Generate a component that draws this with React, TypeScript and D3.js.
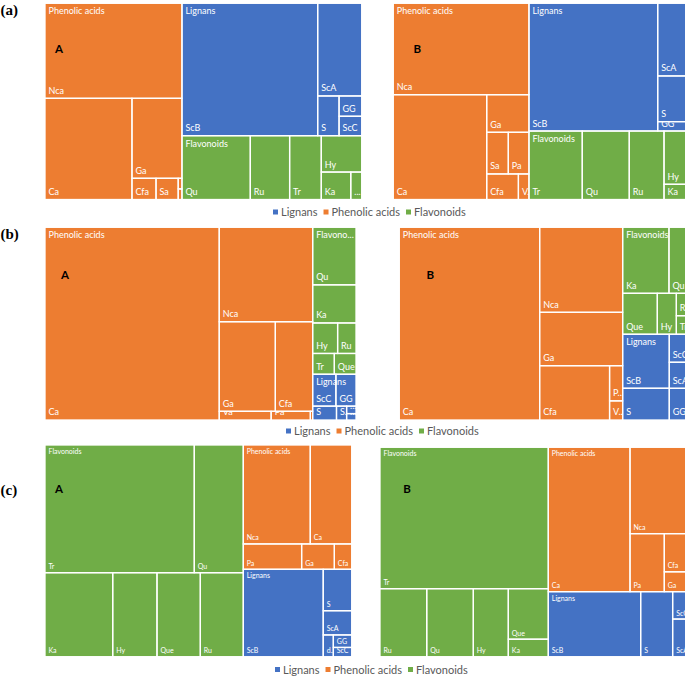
import React from "react";
import * as d3 from "d3";

// ---------- data (relative contents) ----------
// Chart (a) A
const aA_phenolic: [string, number][] = [["Nca", 130.2], ["Ca", 88.0], ["Ga", 40.0], ["Cfa", 5.1], ["Sa", 4.7], ["Pa", 0.4], ["Va", 0.4]];
const aA_lignans: [string, number][] = [["ScB", 179.7], ["ScA", 40.8], ["S", 8.5], ["GG", 4.6], ["ScC", 4.4]];
const aA_flavonoids: [string, number][] = [["Qu", 43.6], ["Ru", 25.1], ["Tr", 20.2], ["Hy", 14.7], ["Ka", 8.1], ["Que", 3.0]];
// Chart (a) B
const aB_phenolic: [string, number][] = [["Nca", 124.0], ["Ca", 97.9], ["Ga", 15.9], ["Sa", 9.0], ["Pa", 8.6], ["Cfa", 8.1], ["Va", 2.7]];
const aB_lignans: [string, number][] = [["ScB", 164.4], ["ScA", 38.0], ["S", 23.9], ["GG", 3.3], ["ScC", 1.6]];
const aB_flavonoids: [string, number][] = [["Tr", 36.5], ["Qu", 32.2], ["Ru", 23.8], ["Hy", 24.5], ["Ka", 4.6], ["Que", 2.4]];
// Chart (b) A
const bA_phenolic: [string, number][] = [["Ca", 335.3], ["Nca", 88.1], ["Ga", 50.2], ["Cfa", 33.4], ["Va", 4.5], ["Pa", 3.4], ["Sa", 0.2]];
const bA_flavonoids: [string, number][] = [["Qu", 24.9], ["Ka", 16.5], ["Hy", 7.6], ["Ru", 5.6], ["Tr", 4.5], ["Que", 4.5]];
const bA_lignans: [string, number][] = [["ScC", 7.4], ["GG", 6.4], ["S", 3.3], ["ScB", 1.4], ["ScA", 0.7], ["dSc", 0.6]];
// Chart (b) B
const bB_phenolic: [string, number][] = [["Ca", 270.6], ["Nca", 70.6], ["Ga", 44.3], ["Cfa", 38.0], ["Pa", 4.6], ["Va", 2.5]];
const bB_flavonoids: [string, number][] = [["Ka", 30.6], ["Qu", 27.3], ["Que", 14.2], ["Hy", 7.8], ["Ru", 7.6], ["Tr", 6.3]];
const bB_lignans: [string, number][] = [["ScB", 25.2], ["S", 14.8], ["ScC", 11.5], ["ScA", 10.7], ["GG", 13.0]];
// Chart (c) A
const cA_flavonoids: [string, number][] = [["Tr", 190.7], ["Qu", 62.6], ["Ka", 56.9], ["Hy", 37.2], ["Que", 36.4], ["Ru", 36.1]];
const cA_phenolic: [string, number][] = [["Nca", 66.3], ["Ca", 41.0], ["Pa", 14.8], ["Ga", 8.3], ["Cfa", 4.4]];
const cA_lignans: [string, number][] = [["ScB", 69.9], ["S", 11.8], ["ScA", 6.9], ["dSc", 2.2], ["GG", 2.3], ["ScC", 1.7]];
// Chart (c) B
const cB_flavonoids: [string, number][] = [["Tr", 238.0], ["Ru", 31.8], ["Qu", 31.7], ["Hy", 23.8], ["Que", 20.2], ["Ka", 7.0]];
const cB_phenolic: [string, number][] = [["Ca", 118.0], ["Nca", 57.0], ["Pa", 19.9], ["Cfa", 12.1], ["Ga", 6.3]];
const cB_lignans: [string, number][] = [["ScB", 60.1], ["S", 20.8], ["ScC", 6.4], ["ScA", 8.8]];

const legendItems = ["Lignans", "Phenolic acids", "Flavonoids"];
const panelLabels = ["(a)", "(b)", "(c)"];

// ---------- styling ----------
const COLORS: Record<string, string> = {
  Lignans: "#4472C4",
  "Phenolic acids": "#ED7D31",
  Flavonoids: "#70AD47",
};
const FONT = "Lato, 'Open Sans', sans-serif";

// row specs: c = column at the left, r = row at the top, followed by item count
type Group = { name: string; rows: string; leaves: [string, number][] };
type Chart = {
  id: string; x: number; y: number; w: number; h: number; tag: string;
  tagX: number; tagY: number; fs: number; topRows: string; groups: Group[];
};

const charts: Chart[] = [
  {
    id: "aA", x: 45, y: 3.3, w: 316.7, h: 196.2, tag: "A", tagX: 14, tagY: 50, fs: 9, topRows: "c1 r1 r1",
    groups: [
      { name: "Phenolic acids", rows: "r1 c1 r1 c1 c1 r1 r1", leaves: aA_phenolic },
      { name: "Lignans", rows: "c1 r1 c1 r1 r1", leaves: aA_lignans },
      { name: "Flavonoids", rows: "c1 c1 c1 r1 c1 c1", leaves: aA_flavonoids },
    ],
  },
  {
    id: "aB", x: 393.3, y: 3.3, w: 316.7, h: 196.2, tag: "B", tagX: 24, tagY: 50, fs: 9, topRows: "c1 r1 r1",
    groups: [
      { name: "Phenolic acids", rows: "r1 c1 r1 r2 c1 c1", leaves: aB_phenolic },
      { name: "Lignans", rows: "c1 r1 r1 c1 c1", leaves: aB_lignans },
      { name: "Flavonoids", rows: "c1 c1 c1 r1 c1 c1", leaves: aB_flavonoids },
    ],
  },
  {
    id: "bA", x: 45, y: 227.3, w: 311, h: 192.7, tag: "A", tagX: 20, tagY: 52, fs: 9, topRows: "c1 r1 r1",
    groups: [
      { name: "Phenolic acids", rows: "c1 r1 r2 c1 c1 c1", leaves: bA_phenolic },
      { name: "Flavonoids", rows: "r1 r1 r2 c1 c1", leaves: bA_flavonoids },
      { name: "Lignans", rows: "r2 c1 c1 r1 r1", leaves: bA_lignans },
    ],
  },
  {
    id: "bB", x: 399.3, y: 227.3, w: 311, h: 192.7, tag: "B", tagX: 31, tagY: 52, fs: 9, topRows: "c1 r1 r1",
    groups: [
      { name: "Phenolic acids", rows: "c1 r1 r1 c1 r1 r1", leaves: bB_phenolic },
      { name: "Flavonoids", rows: "r2 c1 c1 r1 r1", leaves: bB_flavonoids },
      { name: "Lignans", rows: "c2 r1 r1 r1", leaves: bB_lignans },
    ],
  },
  {
    id: "cA", x: 45, y: 445, w: 306.7, h: 211.7, tag: "A", tagX: 14, tagY: 48, fs: 7, topRows: "c1 r1 r1",
    groups: [
      { name: "Flavonoids", rows: "r2 c1 c1 c1 c1", leaves: cA_flavonoids },
      { name: "Phenolic acids", rows: "r2 c1 c1 c1", leaves: cA_phenolic },
      { name: "Lignans", rows: "c1 r1 r1 c1 r1 r1", leaves: cA_lignans },
    ],
  },
  {
    id: "cB", x: 380, y: 447.3, w: 316, h: 209.4, tag: "B", tagX: 27, tagY: 46, fs: 7, topRows: "c1 r1 r1",
    groups: [
      { name: "Flavonoids", rows: "r1 c1 c1 c1 r1 r1", leaves: cB_flavonoids },
      { name: "Phenolic acids", rows: "c1 r1 c1 r1 r1", leaves: cB_phenolic },
      { name: "Lignans", rows: "c1 c1 r1 r1", leaves: cB_lignans },
    ],
  },
];

const legends = [
  { x: 273, y: 212 },
  { x: 286, y: 431 },
  { x: 275, y: 669.5 },
];
const panelPos = [15, 239, 495];

// ---------- helpers ----------
function rowTile(node: any, x0: number, y0: number, x1: number, y1: number) {
  const spec: string = node.data.rows;
  const kids = node.children;
  let i = 0;
  let rem = node.value;
  for (const tok of spec.split(" ")) {
    const n = +tok.slice(1);
    const row = kids.slice(i, i + n);
    i += n;
    if (!row.length) continue;
    const sum = d3.sum(row, (d: any) => d.value);
    const frac = rem > 0 ? sum / rem : 0;
    const part: any = { children: row, value: sum };
    if (tok[0] === "c") {
      const xm = x0 + (x1 - x0) * frac;
      d3.treemapSlice(part, x0, y0, xm, y1);
      x0 = xm;
    } else {
      const ym = y0 + (y1 - y0) * frac;
      d3.treemapDice(part, x0, y0, x1, ym);
      y0 = ym;
    }
    rem -= sum;
  }
}

let ctx: CanvasRenderingContext2D | null = null;
function measure(text: string, fs: number, weight = 400) {
  if (!ctx) ctx = document.createElement("canvas").getContext("2d");
  if (!ctx) return text.length * fs * 0.5;
  ctx.font = `${weight} ${fs}px ${FONT}`;
  return ctx.measureText(text).width;
}

function fitLabel(text: string, width: number, fs: number) {
  const avail = width - 4;
  if (measure(text, fs) <= avail) return text;
  for (let k = text.length - 1; k >= 1; k--) {
    const t = text.slice(0, k) + "...";
    if (measure(t, fs) <= avail) return t;
  }
  const one = text.slice(0, 1) + "...";
  if (measure(one, fs) <= width + 1.5) return one;
  if (measure("...", fs) <= width) return "...";
  return "";
}

function TreeChart({ c }: { c: Chart }) {
  const data = {
    rows: c.topRows,
    children: c.groups.map((g) => ({
      name: g.name,
      rows: g.rows,
      children: g.leaves.map(([name, value]) => ({ name, value })),
    })),
  };
  const root = d3.hierarchy<any>(data).sum((d: any) => d.value ?? 0);
  d3.treemap<any>().size([c.w, c.h]).tile(rowTile as any).round(false)(root);
  const groups = (root.children || []) as any[];
  const leaves = root.leaves() as any[];
  const fs = c.fs;
  const headOff = fs === 9 ? 11 : 9;
  const leafOff = fs === 9 ? 4.5 : 3.5;
  return (
    <g transform={`translate(${c.x},${c.y})`}>
      <defs>
        {leaves.map((l, i) => (
          <clipPath id={`${c.id}-l${i}`} key={i}>
            <rect x={l.x0} y={l.y0} width={l.x1 - l.x0} height={l.y1 - l.y0} />
          </clipPath>
        ))}
        {groups.map((g, i) => (
          <clipPath id={`${c.id}-g${i}`} key={i}>
            <rect x={g.x0} y={g.y0} width={g.x1 - g.x0} height={g.y1 - g.y0} />
          </clipPath>
        ))}
      </defs>
      {leaves.map((l, i) => (
        <rect key={i} x={l.x0} y={l.y0} width={l.x1 - l.x0} height={l.y1 - l.y0}
          fill={COLORS[l.parent.data.name]} />
      ))}
      {leaves.map((l, i) => {
        const w = l.x1 - l.x0, h = l.y1 - l.y0;
        if (w < 5 || h < 6) return null;
        const t = fitLabel(l.data.name, w, fs);
        if (!t) return null;
        return (
          <text key={i} x={l.x0 + 3.5} y={l.y1 - leafOff} fontSize={fs} fill="#fff"
            fontFamily={FONT} clipPath={`url(#${c.id}-l${i})`}>{t}</text>
        );
      })}
      {groups.map((g, i) => (
        <text key={i} x={g.x0 + 3.5} y={g.y0 + headOff} fontSize={fs} fill="#fff"
          fontFamily={FONT} clipPath={`url(#${c.id}-g${i})`}>
          {fitLabel(g.data.name, g.x1 - g.x0, fs)}
        </text>
      ))}
      {leaves.map((l, i) => (
        <rect key={i} x={l.x0} y={l.y0} width={l.x1 - l.x0} height={l.y1 - l.y0}
          fill="none" stroke="#fff" strokeWidth={1.3} />
      ))}
      <text x={c.tagX} y={c.tagY} fontSize={11.5} fontWeight={700} fontFamily={FONT}
        fill="#000" textAnchor="middle">{c.tag}</text>
    </g>
  );
}

function Legend({ x, y }: { x: number; y: number }) {
  let cx = x;
  const items = legendItems.map((name) => {
    const tw = measure(name, 11);
    const item = { name, sx: cx, tx: cx + 8 };
    cx = cx + 8 + tw + 6;
    return item;
  });
  return (
    <g>
      {items.map((it) => (
        <g key={it.name}>
          <rect x={it.sx} y={y - 2.5} width={5} height={5} fill={COLORS[it.name]} />
          <text x={it.tx} y={y + 4} fontSize={11} fill="#595959" fontFamily={FONT}>{it.name}</text>
        </g>
      ))}
    </g>
  );
}

export default function App() {
  return (
    <svg width={685} height={677} style={{ position: "absolute", left: 0, top: 0, background: "#fff" }}>
      <rect x={0} y={0} width={685} height={677} fill="#fff" />
      {charts.map((c) => <TreeChart key={c.id} c={c} />)}
      {legends.map((l, i) => <Legend key={i} x={l.x} y={l.y} />)}
      {panelLabels.map((p, i) => (
        <text key={p} x={0.5} y={panelPos[i]} fontSize={15} fontWeight={700}
          fontFamily="'Liberation Serif', 'DejaVu Serif', serif" fill="#000">{p}</text>
      ))}
    </svg>
  );
}
